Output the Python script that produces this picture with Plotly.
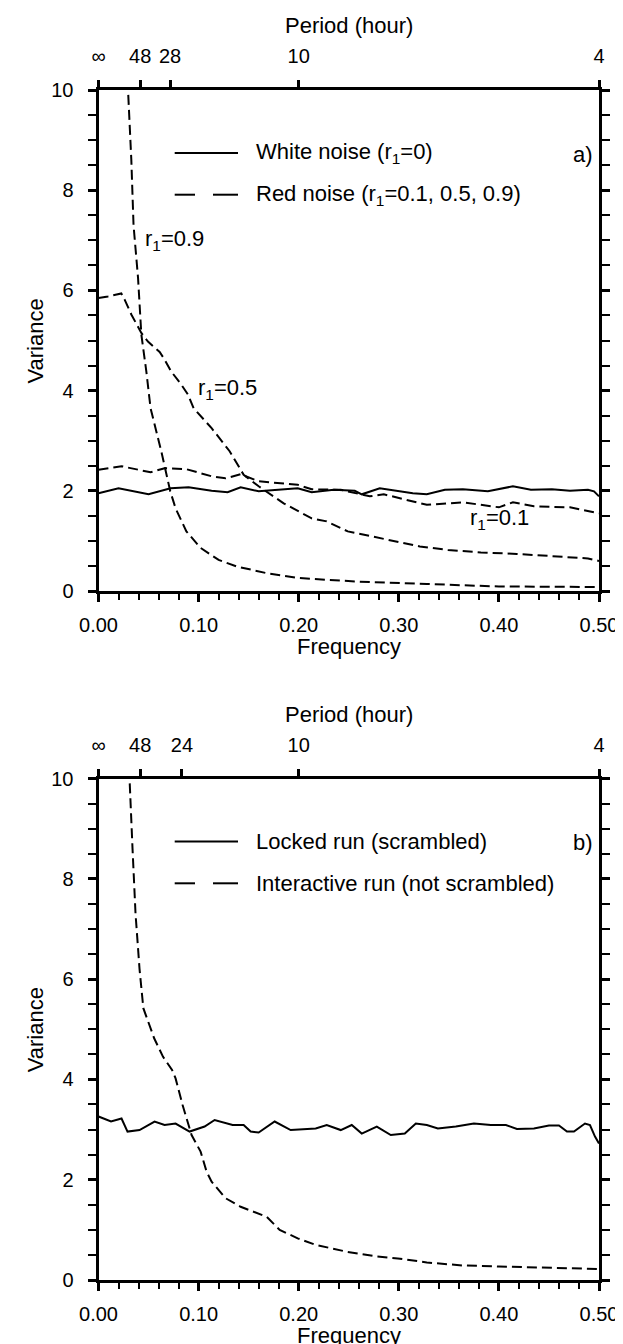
import plotly.graph_objects as go

# ---------------- data ----------------
# Panel a
white_f = [0, 0.02, 0.05, 0.072, 0.09, 0.113, 0.129, 0.142, 0.16, 0.177, 0.199, 0.213, 0.235, 0.256,
           0.263, 0.281, 0.299, 0.314, 0.328, 0.346, 0.364, 0.389, 0.414, 0.432, 0.453, 0.471, 0.489, 0.495, 0.5]
white_v = [1.95, 2.05, 1.93, 2.05, 2.07, 2.0, 1.97, 2.07, 1.99, 2.02, 2.05, 1.97, 2.02, 2.0,
           1.93, 2.05, 2.0, 1.95, 1.93, 2.02, 2.03, 1.99, 2.09, 2.02, 2.03, 2.0, 2.02, 1.99, 1.89]

r01_f = [0, 0.023, 0.052, 0.066, 0.088, 0.113, 0.127, 0.142, 0.16, 0.199, 0.213, 0.242, 0.271, 0.285,
         0.328, 0.364, 0.40, 0.414, 0.435, 0.471, 0.5]
r01_v = [2.42, 2.49, 2.37, 2.45, 2.43, 2.29, 2.25, 2.33, 2.19, 2.12, 2.03, 2.02, 1.89, 1.93,
         1.72, 1.77, 1.67, 1.77, 1.69, 1.67, 1.55]

r05_f = [0, 0.0095, 0.0228, 0.026, 0.0328, 0.0428, 0.0494, 0.0611, 0.066, 0.0727, 0.0827, 0.0894, 0.095,
         0.113, 0.131, 0.145, 0.16, 0.185, 0.213, 0.228, 0.249, 0.274, 0.292, 0.321, 0.349, 0.382, 0.418,
         0.453, 0.489, 0.5]
r05_v = [5.85, 5.88, 5.94, 5.82, 5.52, 5.15, 4.98, 4.77, 4.62, 4.38, 4.12, 3.92, 3.65,
         3.25, 2.79, 2.32, 2.09, 1.75, 1.45, 1.39, 1.19, 1.09, 1.02, 0.89, 0.82, 0.77, 0.74,
         0.69, 0.65, 0.6]

r09_f = [0.028, 0.0295, 0.0328, 0.035, 0.0395, 0.0428, 0.0478, 0.052, 0.0627, 0.0717, 0.077, 0.0878,
         0.102, 0.12, 0.138, 0.167, 0.199, 0.256, 0.328, 0.40, 0.5]
r09_v = [10.5, 10.0, 8.6, 7.3, 6.25, 5.12, 4.38, 3.65, 2.79, 1.99, 1.65, 1.19,
         0.86, 0.62, 0.49, 0.36, 0.26, 0.19, 0.14, 0.09, 0.08]

# Panel b
locked_f = [0, 0.0125, 0.023, 0.029, 0.041, 0.056, 0.066, 0.077, 0.091, 0.106, 0.116, 0.134, 0.145,
            0.152, 0.16, 0.176, 0.192, 0.217, 0.228, 0.242, 0.253, 0.263, 0.278, 0.292, 0.306, 0.317,
            0.328, 0.339, 0.357, 0.375, 0.392, 0.407, 0.418, 0.435, 0.45, 0.46, 0.468, 0.475, 0.486,
            0.491, 0.496, 0.5]
locked_v = [3.26, 3.16, 3.22, 2.96, 2.99, 3.16, 3.09, 3.12, 2.96, 3.06, 3.19, 3.09, 3.09,
            2.96, 2.94, 3.16, 2.99, 3.02, 3.09, 2.99, 3.09, 2.92, 3.06, 2.89, 2.92, 3.12,
            3.09, 3.02, 3.06, 3.12, 3.09, 3.09, 3.01, 3.02, 3.08, 3.08, 2.96, 2.96, 3.12,
            3.09, 2.86, 2.72]

inter_f = [0.029, 0.031, 0.034, 0.037, 0.041, 0.0448, 0.0556, 0.0645, 0.0735, 0.077, 0.084, 0.093,
           0.102, 0.108, 0.113, 0.127, 0.142, 0.156, 0.168, 0.181, 0.199, 0.217, 0.249, 0.278,
           0.299, 0.328, 0.364, 0.40, 0.435, 0.5]
inter_v = [10.5, 10.0, 8.6, 7.3, 6.2, 5.42, 4.82, 4.45, 4.19, 4.02, 3.49, 2.89,
           2.56, 2.16, 1.96, 1.63, 1.46, 1.35, 1.26, 1.0, 0.83, 0.70, 0.56, 0.47,
           0.43, 0.35, 0.29, 0.27, 0.25, 0.22]

# Axis tick labels
freq_ticks = [0.0, 0.1, 0.2, 0.3, 0.4, 0.5]
var_ticks = [0, 2, 4, 6, 8, 10]
period_a = [float("inf"), 48, 28, 10, 4]
period_b = [float("inf"), 48, 24, 10, 4]
sampling_hours = 2.0  # frequency 0.5 <-> period 4 h

# ---------------- figure ----------------
FONT = "Liberation Sans, Arial, Helvetica, sans-serif"
W, H = 623, 1344
X0, X1 = 90.5, 591.0
YA0, YA1 = 82.0, 583.0
YB0, YB1 = 770.5, 1272.0
x_dom = [X0 / W, X1 / W]
ya_dom = [1 - YA1 / H, 1 - YA0 / H]
yb_dom = [1 - YB1 / H, 1 - YB0 / H]

LW = 2
DASH = "10px,5px"

fig = go.Figure()
fig.add_trace(go.Scatter(x=white_f, y=white_v, mode="lines", line=dict(color="black", width=LW),
                         xaxis="x", yaxis="y", showlegend=False))
for fx, vy in [(r01_f, r01_v), (r05_f, r05_v), (r09_f, r09_v)]:
    fig.add_trace(go.Scatter(x=fx, y=vy, mode="lines", line=dict(color="black", width=LW, dash=DASH),
                             xaxis="x", yaxis="y", showlegend=False))
fig.add_trace(go.Scatter(x=locked_f, y=locked_v, mode="lines", line=dict(color="black", width=LW),
                         xaxis="x2", yaxis="y2", showlegend=False))
fig.add_trace(go.Scatter(x=inter_f, y=inter_v, mode="lines", line=dict(color="black", width=LW, dash=DASH),
                         xaxis="x2", yaxis="y2", showlegend=False))
fig.add_trace(go.Scatter(x=[None], y=[None], xaxis="x3", yaxis="y", showlegend=False, hoverinfo="skip"))
fig.add_trace(go.Scatter(x=[None], y=[None], xaxis="x4", yaxis="y2", showlegend=False, hoverinfo="skip"))


def per_to_freq(periods):
    return [0.0 if p == float("inf") else sampling_hours / p for p in periods]


def per_text(periods):
    return ["∞" if p == float("inf") else f"{p:g}" for p in periods]


tickfont = dict(family=FONT, size=20, color="black")
titlefont = dict(family=FONT, size=22, color="black")

def bottom_x(anchor):
    return dict(domain=x_dom, anchor=anchor, range=[0, 0.5], showline=True, linewidth=3, linecolor="black",
                tickvals=freq_ticks, ticktext=[f"{v:.2f}" for v in freq_ticks], automargin=False,
                ticks="outside", ticklen=8, tickwidth=3, tickcolor="black",
                minor=dict(dtick=0.02, tick0=0, ticks="outside", ticklen=6, tickwidth=1.5, tickcolor="black"),
                showgrid=False, zeroline=False, tickfont=tickfont, ticklabelstandoff=6)

def left_y(anchor, dom):
    return dict(domain=dom, anchor=anchor, range=[0, 10], showline=True, linewidth=3, linecolor="black",
                mirror="allticks", tickvals=var_ticks, ticks="outside", ticklen=8, tickwidth=3,
                tickcolor="black", automargin=False,
                minor=dict(dtick=0.5, tick0=0, ticks="outside", ticklen=6, tickwidth=1.5, tickcolor="black"),
                showgrid=False, zeroline=False, tickfont=tickfont, ticklabelstandoff=10)

def top_x(overlay, anchor, periods):
    return dict(overlaying=overlay, anchor=anchor, side="top", range=[0, 0.5], showline=True, linewidth=3,
                linecolor="black", tickvals=per_to_freq(periods), ticktext=per_text(periods),
                ticks="outside", ticklen=7, tickwidth=3, tickcolor="black", showgrid=False, zeroline=False,
                tickfont=tickfont, ticklabelstandoff=9, automargin=False)

fig.update_layout(
    width=W, height=H, margin=dict(l=0, r=0, t=0, b=0, autoexpand=False),
    paper_bgcolor="white", plot_bgcolor="white", template="none",
    font=dict(family=FONT, color="black"),
    xaxis=bottom_x("y"), yaxis=left_y("x", ya_dom),
    xaxis2=bottom_x("y2"), yaxis2=left_y("x2", yb_dom),
    xaxis3=top_x("x", "y", period_a), xaxis4=top_x("x2", "y2", period_b),
)

# ---------- axis titles as paper annotations ----------
def py(pixel_y):
    return 1 - pixel_y / H

def px(pixel_x):
    return pixel_x / W

xc = px((X0 + X1) / 2)
for top, bot in [(YA0, YA1), (YB0, YB1)]:
    fig.add_annotation(xref="paper", yref="paper", x=xc, y=py(bot + 55), text="Frequency", showarrow=False,
                       xanchor="center", yanchor="middle", font=titlefont)
    fig.add_annotation(xref="paper", yref="paper", x=xc, y=py(top - 64), text="Period (hour)", showarrow=False,
                       xanchor="center", yanchor="middle", font=titlefont)
    fig.add_annotation(xref="paper", yref="paper", x=px(27), y=py((top + bot) / 2), text="Variance",
                       showarrow=False, textangle=-90, xanchor="center", yanchor="middle", font=titlefont)

# ---------- legend glyphs and labels (drawn inside each panel) ----------
PW = X1 - X0
PH = YA1 - YA0

def px_to_dom_x(p):
    return (p - X0) / PW

def add_legend(xref, yref, entries):
    for text, dashed, dy in entries:
        yd = 1 - dy / PH
        segs = [(166.7, 187.0), (205.0, 230.0)] if dashed else [(166.7, 230.0)]
        for a, b in segs:
            fig.add_shape(type="line", xref=xref, yref=yref, x0=px_to_dom_x(a), x1=px_to_dom_x(b),
                          y0=yd, y1=yd, line=dict(color="black", width=2))
        fig.add_annotation(xref=xref, yref=yref, x=px_to_dom_x(246), y=yd, text=text, showarrow=False,
                           xanchor="left", yanchor="middle", font=dict(family=FONT, size=22, color="black"))

add_legend("x domain", "y domain", [("White noise (r<sub>1</sub>=0)", False, 63),
                                    ("Red noise (r<sub>1</sub>=0.1, 0.5, 0.9)", True, 104.7)])
add_legend("x2 domain", "y2 domain", [("Locked run (scrambled)", False, 63),
                                      ("Interactive run (not scrambled)", True, 104.7)])

for xref, yref, lab in [("x domain", "y domain", "a)"), ("x2 domain", "y2 domain", "b)")]:
    fig.add_annotation(xref=xref, yref=yref, x=0.992, y=1 - 64 / PH, text=lab, showarrow=False,
                       xanchor="right", yanchor="middle", font=dict(family=FONT, size=22, color="black"))

curve_labels_text = ["r<sub>1</sub>=0.9", "r<sub>1</sub>=0.5", "r<sub>1</sub>=0.1"]
curve_labels_f = [0.0445, 0.0977, 0.3696]
curve_labels_v = [7.0, 4.03, 1.44]
for t, fx, vy in zip(curve_labels_text, curve_labels_f, curve_labels_v):
    fig.add_annotation(xref="x", yref="y", x=fx, y=vy, text=t, showarrow=False, xanchor="left",
                       yanchor="middle", font=dict(family=FONT, size=22, color="black"))

fig.write_html("out.html")
